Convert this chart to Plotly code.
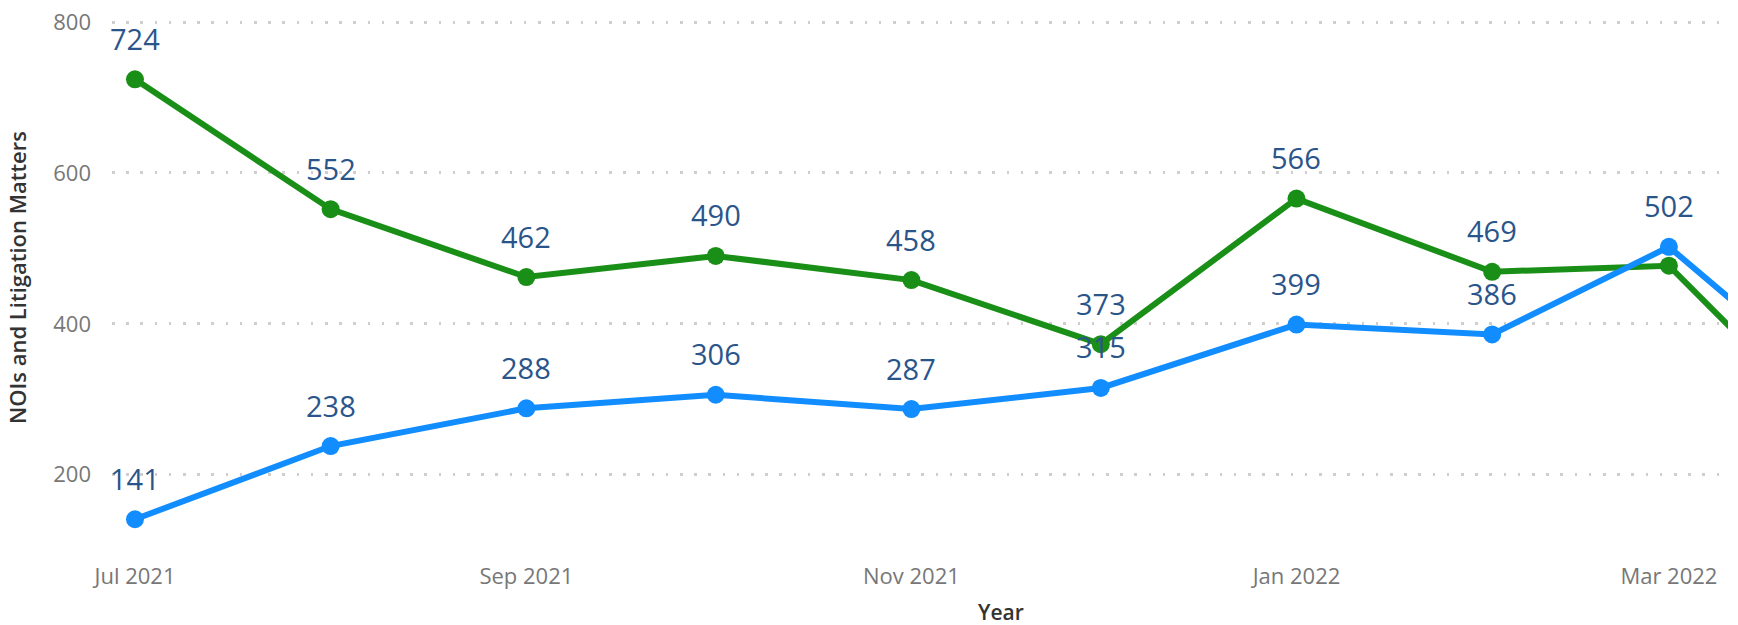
import plotly.graph_objects as go
from datetime import datetime, timedelta

months = ["2021-07-01", "2021-08-01", "2021-09-01", "2021-10-01", "2021-11-01",
          "2021-12-01", "2022-01-01", "2022-02-01", "2022-03-01", "2022-04-01"]
green_vals = [724, 552, 462, 490, 458, 373, 566, 469, 477, 217]
blue_vals = [141, 238, 288, 306, 287, 315, 399, 386, 502, 282]
green_labels = ["724", "552", "462", "490", "458", "373", "566", "469", "", ""]
blue_labels = ["141", "238", "288", "306", "287", "315", "399", "386", "502", ""]
y_ticks = [200, 400, 600, 800]

GREEN = "#1A8F17"
BLUE = "#118DFF"
LABEL = "#2A558A"
FONT = "Open Sans"

fig = go.Figure()
fig.add_trace(go.Scatter(x=months, y=green_vals, mode="lines+markers",
                         line=dict(color=GREEN, width=6),
                         marker=dict(color=GREEN, size=18), name="NOIs",
                         cliponaxis=True))
fig.add_trace(go.Scatter(x=months, y=blue_vals, mode="lines+markers",
                         line=dict(color=BLUE, width=6),
                         marker=dict(color=BLUE, size=18), name="Litigation",
                         cliponaxis=True))

for xs, ys, ts in [(months, green_vals, green_labels), (months, blue_vals, blue_labels)]:
    for x, y, t in zip(xs, ys, ts):
        if t:
            fig.add_annotation(x=x, y=y, text=t, showarrow=False, yshift=41,
                               font=dict(family=FONT, size=29, color=LABEL))

fig.add_annotation(xref="paper", yref="paper", x=(1001 - 112) / (1728 - 112), y=0,
                   yshift=-57, text="Year", showarrow=False, yanchor="middle",
                   font=dict(family=FONT, size=21, color="#333333", weight=600))

x_start = datetime(2021, 7, 1) - timedelta(days=3.64)
x_end = x_start + timedelta(days=256.0)

fig.update_layout(
    width=1738, height=625,
    margin=dict(l=112, r=10, t=0, b=70),
    paper_bgcolor="white", plot_bgcolor="white",
    showlegend=False,
    font=dict(family=FONT),
    xaxis=dict(type="date", range=[x_start, x_end], tick0="2021-07-01", dtick="M2",
               tickformat="%b %Y", showgrid=False, zeroline=False, showline=False,
               ticks="", tickfont=dict(family=FONT, size=22, color="#777777"),
               ticklabelstandoff=6),
    yaxis=dict(range=[93.6, 829.2], tickvals=y_ticks, showgrid=True,
               gridcolor="#CFCFCF", gridwidth=2.5, griddash="2.5px,11.7px",
               zeroline=False, showline=False, ticks="",
               tickfont=dict(family=FONT, size=22, color="#777777"),
               ticklabelstandoff=20,
               title=dict(text="NOIs and Litigation Matters", standoff=20,
                          font=dict(family=FONT, size=22, color="#333333", weight=600))),
)

fig.write_html("out.html")
